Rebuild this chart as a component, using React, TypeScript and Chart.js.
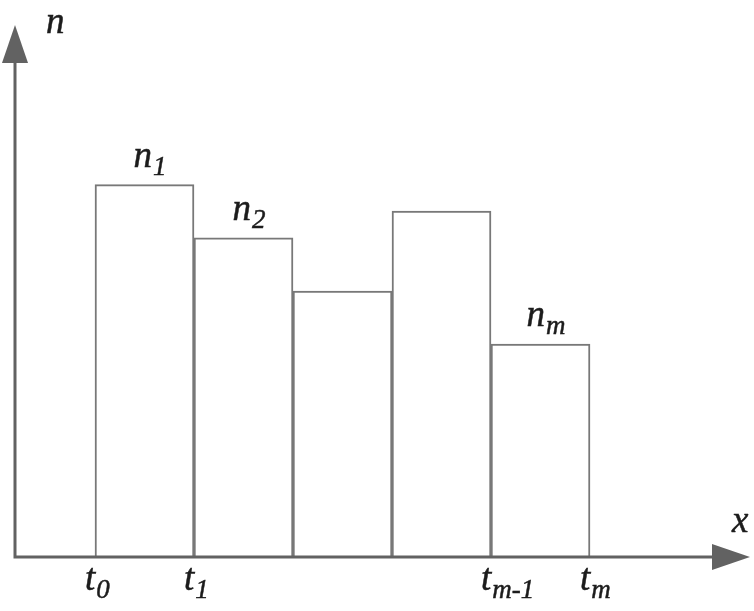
import React, { useEffect, useRef } from 'react';
import { Chart, registerables } from 'chart.js';

Chart.register(...registerables);

// Histogram bins: left edge of each bin (in units of bin width) and counts
const binLeftEdges = [0, 1, 2, 3, 4];
const binCounts = [7, 6, 5, 6.5, 4];
const barLabelMain = ['n', 'n', '', '', 'n'];
const barLabelSub = ['1', '2', '', '', 'm'];

// Tick labels on the x axis
const tickValues = [0, 1, 4, 5];
const tickMain = ['t', 't', 't', 't'];
const tickSub = ['0', '1', 'm-1', 'm'];

// Axis titles
const yAxisTitle = 'n';
const xAxisTitle = 'x';

const X_MIN = -0.808;
const X_MAX = 6.616;
const Y_MIN = 0;
const Y_MAX = 10;

const FONT_MAIN = 'italic 37px "Liberation Serif"';
const FONT_SUB = 'italic 27px "Liberation Serif"';
const TEXT_COLOR = '#1c1c1c';
const AXIS_COLOR = '#626262';

function drawSubText(ctx: CanvasRenderingContext2D, main: string, sub: string, x: number, y: number, center: boolean) {
  ctx.font = FONT_MAIN;
  const w1 = ctx.measureText(main).width;
  ctx.font = FONT_SUB;
  const w2 = sub ? ctx.measureText(sub).width : 0;
  const left = center ? x - (w1 + w2) / 2 : x;
  ctx.font = FONT_MAIN;
  ctx.fillText(main, left, y);
  ctx.strokeText(main, left, y);
  if (sub) {
    ctx.font = FONT_SUB;
    ctx.fillText(sub, left + w1 + 1, y + 8);
    ctx.strokeText(sub, left + w1 + 1, y + 8);
  }
}

const histPlugin = {
  id: 'histDecor',
  afterDraw(chart: any) {
    const ctx: CanvasRenderingContext2D = chart.ctx;
    const { left, right, top, bottom } = chart.chartArea;
    const xScale = chart.scales.x;
    const arrowLen = 38;
    const arrowHalf = 13;
    ctx.save();
    ctx.strokeStyle = AXIS_COLOR;
    ctx.lineWidth = 3;
    ctx.beginPath();
    ctx.moveTo(left, bottom);
    ctx.lineTo(left, top + arrowLen);
    ctx.moveTo(left - 1.5, bottom);
    ctx.lineTo(right - arrowLen, bottom);
    ctx.stroke();
    ctx.fillStyle = AXIS_COLOR;
    ctx.beginPath();
    ctx.moveTo(left, top);
    ctx.lineTo(left - arrowHalf, top + arrowLen);
    ctx.lineTo(left + arrowHalf, top + arrowLen);
    ctx.closePath();
    ctx.fill();
    ctx.beginPath();
    ctx.moveTo(right, bottom);
    ctx.lineTo(right - arrowLen, bottom - arrowHalf);
    ctx.lineTo(right - arrowLen, bottom + arrowHalf);
    ctx.closePath();
    ctx.fill();

    ctx.fillStyle = TEXT_COLOR;
    ctx.strokeStyle = TEXT_COLOR;
    ctx.lineWidth = 0.5;
    ctx.textBaseline = 'alphabetic';
    ctx.textAlign = 'left';
    ctx.font = FONT_MAIN;
    ctx.fillText(yAxisTitle, left + 31, top + 8);
    ctx.strokeText(yAxisTitle, left + 31, top + 8);
    ctx.fillText(xAxisTitle, right - 18, bottom - 25);
    ctx.strokeText(xAxisTitle, right - 18, bottom - 25);

    const meta = chart.getDatasetMeta(0);
    meta.data.forEach((el: any, i: number) => {
      if (!barLabelMain[i]) return;
      drawSubText(ctx, barLabelMain[i], barLabelSub[i], el.x + 5, el.y - 18, true);
    });

    tickValues.forEach((v, i) => {
      const px = xScale.getPixelForValue(v);
      drawSubText(ctx, tickMain[i], tickSub[i], px - 10, bottom + 33, false);
    });
    ctx.restore();
  },
};

export default function App() {
  const canvasRef = useRef<HTMLCanvasElement | null>(null);

  useEffect(() => {
    const canvas = canvasRef.current;
    if (!canvas) return;
    const chart = new Chart(canvas, {
      type: 'bar',
      data: {
        datasets: [
          {
            data: binLeftEdges.map((e, i) => ({ x: e + 0.5, y: binCounts[i] })),
            backgroundColor: '#ffffff',
            borderColor: '#787878',
            borderWidth: 2,
            borderSkipped: 'bottom',
            categoryPercentage: 1,
            barPercentage: 1,
          },
        ],
      },
      options: {
        responsive: false,
        animation: false,
        layout: { padding: { left: 15, right: 4, top: 25, bottom: 54 } },
        plugins: {
          legend: { display: false },
          tooltip: { enabled: false },
        },
        scales: {
          x: {
            type: 'linear',
            display: false,
            offset: false,
            min: X_MIN,
            max: X_MAX,
            afterBuildTicks: (scale: any) => {
              scale.ticks = tickValues.map((v) => ({ value: v }));
            },
          },
          y: {
            type: 'linear',
            display: false,
            min: Y_MIN,
            max: Y_MAX,
          },
        },
      },
      plugins: [histPlugin],
    } as any);
    return () => chart.destroy();
  }, []);

  return (
    <div style={{ position: 'fixed', left: 0, top: 0, width: 754, height: 611, background: '#fff' }}>
      <canvas ref={canvasRef} width={754} height={611} style={{ display: 'block', width: 754, height: 611 }} />
    </div>
  );
}
